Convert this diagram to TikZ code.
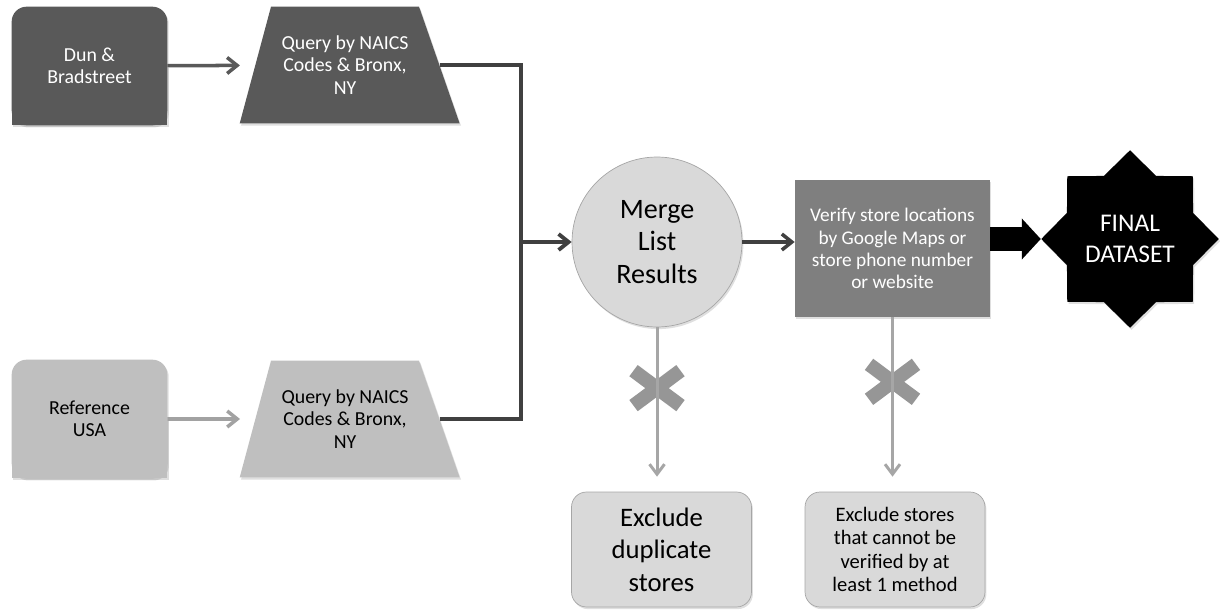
\documentclass[tikz,border=0pt]{standalone}
\usepackage{fontspec}
\setmainfont{Carlito}
\usetikzlibrary{shapes.geometric,shapes.misc,arrows.meta,shadows,backgrounds}
\definecolor{darkgrey}{RGB}{89,89,89}
\definecolor{midgrey}{RGB}{127,127,127}
\definecolor{lightgrey}{RGB}{191,191,191}
\definecolor{palegrey}{RGB}{217,217,217}
\definecolor{edgegrey}{RGB}{166,166,166}
\definecolor{linegrey}{RGB}{64,64,64}
\definecolor{crossgrey}{RGB}{150,150,150}

\tikzset{
  softshadow/.style={drop shadow={opacity=0.25, shadow xshift=0.8pt, shadow yshift=-1.2pt}},
  sourcebox/.style={minimum width=3.1cm, minimum height=2.36cm, align=center, font=\fontsize{11.3}{12.8}\selectfont},
  querybox/.style={trapezium, trapezium left angle=66, trapezium right angle=60, trapezium stretches body=true,
    minimum width=4.4cm, minimum height=2.34cm, align=center, font=\fontsize{11.3}{12.8}\selectfont, softshadow},
  excludebox/.style={rectangle, rounded corners=0.3cm, fill=palegrey, draw=edgegrey, minimum width=3.6cm,
    minimum height=2.3cm, align=center, softshadow},
  darkarrow/.style={draw=darkgrey, line width=2pt, -{Straight Barb[length=0.2cm, width=0.32cm]}},
  greyarrow/.style={draw=edgegrey, line width=1.7pt, shorten >=0.3cm, -{Straight Barb[length=0.2cm, width=0.3cm]}},
  joinline/.style={draw=linegrey, line width=2.2pt},
  blockarrow/.style={draw=black, line width=0.48cm, -{Triangle[length=0.38cm, width=0.8cm]}},
  xmark/.style={cross out, draw=crossgrey, line width=0.28cm, minimum width=0.66cm, minimum height=0.42cm, inner sep=0pt}
}

\begin{document}
\begin{tikzpicture}[x=0.02cm, y=-0.02cm]
    \useasboundingbox (0,0) rectangle (1220,612);

    % Sources (rounded top, square bottom)
    \node[sourcebox, text=white] (dnb) at (89.5,66) {Dun \&\\Bradstreet};
    \node[sourcebox] (refusa) at (89.5,419) {Reference\\USA};
    \begin{scope}[on background layer]
        \fill[darkgrey, rounded corners=0.3cm, softshadow] (dnb.south west) rectangle (dnb.north east);
        \fill[darkgrey, softshadow] (dnb.west) rectangle (dnb.south east);
        \fill[lightgrey, rounded corners=0.3cm, softshadow] (refusa.south west) rectangle (refusa.north east);
        \fill[lightgrey, softshadow] (refusa.west) rectangle (refusa.south east);
    \end{scope}

    % Queries
    \node[querybox, fill=darkgrey, text=white] (qtop) at (345,65) {Query by NAICS\\Codes \& Bronx,\\NY};
    \node[querybox, fill=lightgrey] (qbot) at (345,419) {Query by NAICS\\Codes \& Bronx,\\NY};
    \draw[darkarrow, shorten >=0.3cm] (dnb) -- (qtop);
    \draw[darkarrow, draw=lightgrey!85!black, shorten >=0.3cm] (refusa) -- (qbot);

    % Merge
    \node[circle, fill=palegrey, draw=edgegrey, minimum size=3.4cm, align=center,
          font=\fontsize{16}{18.4}\selectfont, softshadow] (merge) at (657,242) {Merge\\List\\Results};
    \coordinate (joint) at (521,242);
    \draw[joinline] (qtop.east) -| (joint);
    \draw[joinline] (qbot.east) -| (joint);
    \draw[joinline, -{Straight Barb[length=0.2cm, width=0.32cm]}] (joint) -- (merge.west);

    % Verify
    \node[rectangle, fill=midgrey, text=white, minimum width=3.9cm, minimum height=2.74cm, align=center,
          font=\fontsize{11}{12.6}\selectfont, softshadow] (verify) at (892.5,248.5)
          {Verify store locations\\by Google Maps or\\store phone number\\or website};
    \draw[darkarrow, draw=linegrey] (merge.east) -- (verify.west |- merge.east);

    % Final dataset
    \node[star, star points=8, star point ratio=1.3, fill=black, text=white, inner sep=0pt, minimum size=3.55cm,
          align=center, font=\fontsize{14.5}{18}\selectfont, softshadow] (final) at (1130,239) {FINAL\\DATASET};
    \draw[blockarrow] (verify.east |- final.west) -- (final.west);

    % Exclusions
    \node[excludebox, font=\fontsize{15.2}{18.4}\selectfont] (dup) at (661.5,549.5) {Exclude\\duplicate\\stores};
    \node[excludebox, font=\fontsize{11.7}{13.2}\selectfont] (unver) at (895,549.5) {Exclude stores\\that cannot be\\verified by at\\least 1 method};
    \path (merge.south) -- node[xmark, pos=0.37] (cut1) {} (merge.south |- dup.north);
    \path (verify.south) -- node[xmark, pos=0.37] (cut2) {} (verify.south |- unver.north);
    \draw[greyarrow] (merge.south) -- (merge.south |- dup.north);
    \draw[greyarrow] (verify.south) -- (verify.south |- unver.north);
\end{tikzpicture}
\end{document}
